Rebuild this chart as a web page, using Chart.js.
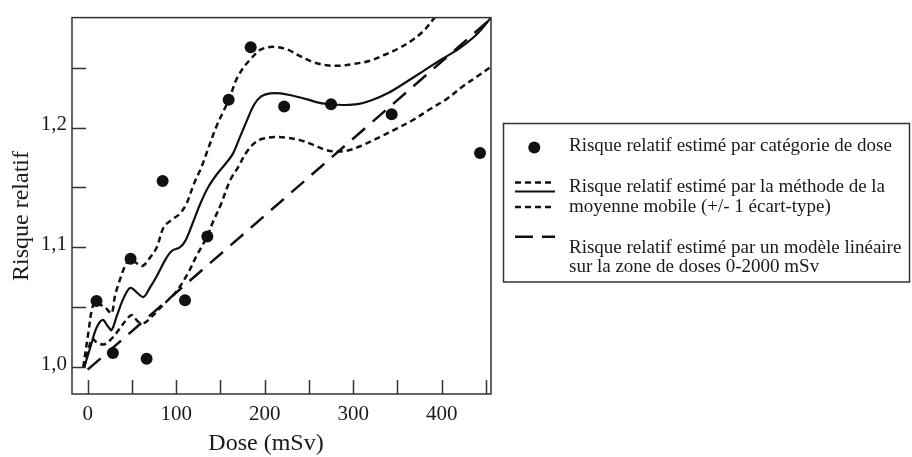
<!DOCTYPE html>
<html>
<head>
<meta charset="utf-8">
<script src="https://cdn.jsdelivr.net/npm/chart.js@4.4.1/dist/chart.umd.min.js"></script>
<style>
  html, body { margin: 0; padding: 0; background: #fff; }
  canvas { display: block; }
</style>
</head>
<body>
<canvas id="chart" width="912" height="457"></canvas>
<script>
// Risque relatif estimé par catégorie de dose (points)
const doseCategories = [10, 28.5, 48.5, 66.6, 84.7, 110, 135.2, 159.3, 184.2, 222, 275, 343.5, 443.3];
const rrCategories = [1.0553, 1.012, 1.0905, 1.0072, 1.1553, 1.0559, 1.109, 1.2232, 1.267, 1.2175, 1.2195, 1.211, 1.1788];

// Moyenne mobile (trait plein)
const meanDose = [-4, 4, 10, 17, 23, 27, 33, 39, 46, 50, 56, 63, 70, 78, 88, 95, 104, 110, 117, 127, 136, 146, 156, 164, 172, 180, 188, 196, 206, 218, 232, 248, 262, 276, 290, 305, 320, 340, 360, 380, 400, 420, 440, 456];
const meanRR = [1.000, 1.019, 1.033, 1.0396, 1.034, 1.031, 1.043, 1.055, 1.065, 1.066, 1.062, 1.0586, 1.066, 1.076, 1.090, 1.097, 1.100, 1.105, 1.117, 1.136, 1.150, 1.161, 1.170, 1.178, 1.192, 1.206, 1.219, 1.226, 1.2285, 1.2285, 1.2265, 1.2235, 1.2205, 1.2192, 1.2188, 1.2195, 1.2225, 1.229, 1.238, 1.2475, 1.257, 1.266, 1.278, 1.292];

// Moyenne mobile + 1 écart-type
const upperDose = [-5, 1, 5, 9, 15, 21, 27, 31, 36, 42, 48, 55, 62, 70, 78, 86, 95, 104, 112, 120, 128, 136, 145, 153, 160, 168, 176, 184, 194, 204, 214, 226, 240, 255, 270, 285, 300, 318, 335, 350, 365, 380, 392, 400];
const upperRR = [1.000, 1.030, 1.049, 1.055, 1.052, 1.049, 1.045, 1.060, 1.072, 1.084, 1.0905, 1.087, 1.0845, 1.091, 1.100, 1.117, 1.123, 1.128, 1.137, 1.153, 1.166, 1.182, 1.200, 1.213, 1.224, 1.240, 1.250, 1.257, 1.2644, 1.267, 1.267, 1.265, 1.2595, 1.2545, 1.252, 1.2515, 1.253, 1.2555, 1.2605, 1.2655, 1.272, 1.281, 1.2917, 1.298];

// Moyenne mobile - 1 écart-type
const lowerDose = [-4, 2, 5, 10, 18, 26, 34, 42, 50, 57, 64, 72, 80, 88, 100, 113, 123, 135, 142, 150, 161, 170, 180, 190, 200, 212, 225, 240, 255, 268, 280, 295, 311, 330, 349, 368, 387, 405, 424, 440, 456];
const lowerRR = [1.000, 1.018, 1.024, 1.021, 1.019, 1.023, 1.030, 1.038, 1.0437, 1.038, 1.037, 1.042, 1.048, 1.054, 1.063, 1.078, 1.093, 1.109, 1.122, 1.135, 1.156, 1.167, 1.18, 1.188, 1.191, 1.192, 1.1915, 1.1895, 1.1855, 1.1815, 1.18, 1.181, 1.1854, 1.192, 1.199, 1.2065, 1.2154, 1.2235, 1.2344, 1.2425, 1.2508];

// Modèle linéaire
const linearDose = [0, 456];
const linearRR = [0.998, 1.291];

const legendLabels = [
  ["Risque relatif estimé par catégorie de dose"],
  ["Risque relatif estimé par la méthode de la", "moyenne mobile (+/- 1 écart-type)"],
  ["Risque relatif estimé par un modèle linéaire", "sur la zone de doses 0-2000 mSv"]
];

const ink = "#1a1a1a";
const serif = '"Liberation Serif", serif';
const dotted = [6, 4];
const longDash = [17, 10];

function toPoints(xs, ys) {
  return xs.map((x, i) => ({ x: x, y: ys[i] }));
}

// cadre, petites graduations intérieures, titres d'axes et légende
const decorPlugin = {
  id: "decor",
  afterDraw(chart) {
    const ctx = chart.ctx;
    const a = chart.chartArea;
    const xs = chart.scales.x;
    const ys = chart.scales.y;
    ctx.save();
    ctx.strokeStyle = "#333";
    ctx.lineWidth = 1.5;
    ctx.strokeRect(a.left, a.top, a.right - a.left, a.bottom - a.top);

    ctx.beginPath();
    xs.ticks.forEach((t) => {
      if (Math.abs(t.value % 50) > 1e-6) return;
      const px = Math.round(xs.getPixelForValue(t.value)) + 0.5;
      ctx.moveTo(px, a.bottom);
      ctx.lineTo(px, a.bottom - 14);
    });
    ys.ticks.forEach((t) => {
      const r = Math.round(t.value * 100);
      if (Math.abs(t.value * 100 - r) > 1e-6 || r % 5 !== 0) return;
      const py = Math.round(ys.getPixelForValue(t.value)) + 0.5;
      ctx.moveTo(a.left, py);
      ctx.lineTo(a.left + 14, py);
    });
    ctx.stroke();

    // titres des axes
    ctx.fillStyle = ink;
    ctx.font = "24px " + serif;
    ctx.textAlign = "center";
    ctx.textBaseline = "alphabetic";
    ctx.fillText("Dose (mSv)", 266, 450);
    ctx.save();
    ctx.translate(28, 216);
    ctx.rotate(-Math.PI / 2);
    ctx.fillText("Risque relatif", 0, 0);
    ctx.restore();

    // légende
    ctx.strokeStyle = "#333";
    ctx.lineWidth = 1.5;
    ctx.strokeRect(503.5, 123.5, 406, 158.5);

    ctx.fillStyle = "#111";
    ctx.beginPath();
    ctx.arc(534.3, 147.5, 6, 0, Math.PI * 2);
    ctx.fill();

    ctx.strokeStyle = "#111";
    ctx.lineWidth = 2.5;
    ctx.setLineDash(dotted);
    [182.5, 207].forEach((yy) => {
      ctx.beginPath();
      ctx.moveTo(515, yy);
      ctx.lineTo(555, yy);
      ctx.stroke();
    });
    ctx.setLineDash([]);
    ctx.lineWidth = 2.2;
    ctx.beginPath();
    ctx.moveTo(515, 191.5);
    ctx.lineTo(555, 191.5);
    ctx.stroke();
    ctx.lineWidth = 2.5;
    ctx.setLineDash([18, 9]);
    ctx.beginPath();
    ctx.moveTo(515, 236.7);
    ctx.lineTo(555, 236.7);
    ctx.stroke();
    ctx.setLineDash([]);

    ctx.fillStyle = ink;
    ctx.font = "19px " + serif;
    ctx.textAlign = "left";
    const baselines = [[150.7], [191.7, 211.7], [252.7, 271.5]];
    legendLabels.forEach((lines, i) => {
      lines.forEach((txt, j) => ctx.fillText(txt, 569, baselines[i][j]));
    });
    ctx.restore();
  }
};

const lineStyle = {
  showLine: true,
  pointRadius: 0,
  borderColor: "#111",
  fill: false,
  tension: 0.35
};

new Chart(document.getElementById("chart"), {
  type: "scatter",
  data: {
    datasets: [
      {
        label: legendLabels[0][0],
        data: toPoints(doseCategories, rrCategories),
        pointRadius: 6,
        pointBackgroundColor: "#111",
        pointBorderWidth: 0,
        showLine: false
      },
      Object.assign({ label: "moyenne mobile", data: toPoints(meanDose, meanRR), borderWidth: 2.2 }, lineStyle),
      Object.assign({ label: "+1 écart-type", data: toPoints(upperDose, upperRR), borderWidth: 2.5, borderDash: dotted }, lineStyle),
      Object.assign({ label: "-1 écart-type", data: toPoints(lowerDose, lowerRR), borderWidth: 2.5, borderDash: dotted }, lineStyle),
      Object.assign({ label: "modèle linéaire", data: toPoints(linearDose, linearRR), borderWidth: 2.5, borderDash: longDash }, lineStyle)
    ]
  },
  options: {
    responsive: false,
    animation: false,
    devicePixelRatio: 1,
    layout: { padding: { left: 0, top: 10, right: 421, bottom: 0 } },
    plugins: { legend: { display: false }, tooltip: { enabled: false } },
    scales: {
      x: {
        type: "linear",
        min: -17.7,
        max: 455.7,
        afterFit: (s) => { s.height = 63; },
        grid: { display: false, drawTicks: false },
        border: { display: false },
        ticks: {
          stepSize: 50,
          includeBounds: false,
          autoSkip: false,
          maxRotation: 0,
          padding: 8,
          color: ink,
          font: { family: serif, size: 21 },
          callback: (v) => (v >= 0 && Math.abs(v % 100) < 1e-6 ? String(v) : "")
        }
      },
      y: {
        type: "linear",
        min: 0.9777,
        max: 1.2917,
        afterFit: (s) => { s.width = 72; },
        grid: { display: false, drawTicks: false },
        border: { display: false },
        ticks: {
          stepSize: 0.05,
          includeBounds: false,
          autoSkip: false,
          padding: 5,
          labelOffset: -3,
          color: ink,
          font: { family: serif, size: 21 },
          callback: (v) => {
            const r = Math.round(v * 100);
            if (Math.abs(v * 100 - r) > 1e-6 || r % 10 !== 0) return "";
            return (r / 100).toFixed(1).replace(".", ",");
          }
        }
      }
    }
  },
  plugins: [decorPlugin]
});
</script>
</body>
</html>
